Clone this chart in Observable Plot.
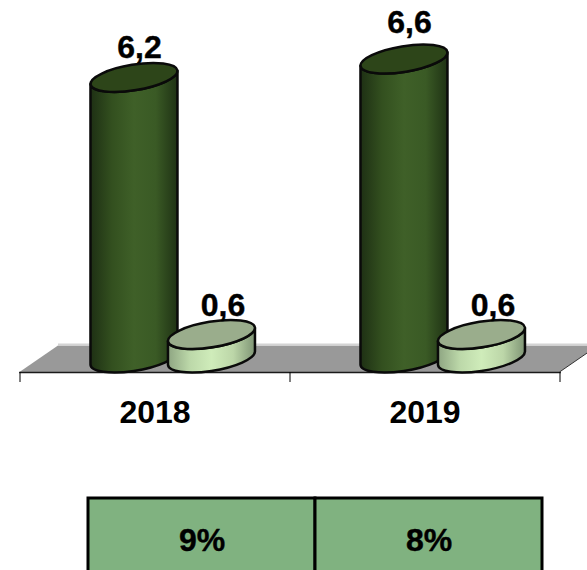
<!DOCTYPE html>
<html>
<head>
<meta charset="utf-8">
<script src="https://cdn.jsdelivr.net/npm/d3@7"></script>
<script src="https://cdn.jsdelivr.net/npm/@observablehq/plot@0.6"></script>
<style>
html,body{margin:0;padding:0;background:#fff;overflow:hidden}
svg{display:block}
</style>
</head>
<body>
<div id="chart"></div>
<script>
const years = [2018, 2019];
const darkValues = [6.2, 6.6];
const lightValues = [0.6, 0.6];
const shares = ["9%", "8%"];
const axisEdges = [2017.5, 2018.5, 2019.5];

const font = "'Liberation Sans', Arial, sans-serif";
const labelSize = 32;
const labelStyle = {fontSize: labelSize, fontWeight: "bold", fill: "#000", stroke: "#000", strokeWidth: 0.4, lineAnchor: "bottom"};
const rx = 44, ry = 12.8, tilt = -9.3, extX = 43.5, extY = 6.5;
const baseValue = 0.087;
const floorDepth = {dx: 38.5, dy: 26.5};

const darkRows = years.map((year, i) => ({year, value: darkValues[i], pos: year - 0.076, kind: "dark"}));
const lightRows = years.map((year, i) => ({year, value: lightValues[i], pos: year + 0.211, kind: "light"}));
const rows = [...darkRows, ...lightRows];
const palette = {
  dark: {top: "#2d4519", stops: ["#1e3014", "#33501f", "#3f6028", "#3a5a25", "#1f3214"]},
  light: {top: "#9aad8c", stops: ["#8ea582", "#bcd8a9", "#cfecba", "#bcd6a8", "#7f9575"]}
};
const comma = d => String(d.value).replace(".", ",");

function floorMark(index, {x}, values, {marginBottom, height}) {
  const fy = height - marginBottom;
  const x0 = x(axisEdges[0]), x1 = x(axisEdges[axisEdges.length - 1]);
  const g = d3.create("svg:g");
  g.append("path")
    .attr("d", `M${x0},${fy}L${x0 + floorDepth.dx},${fy - floorDepth.dy}L${x1 + floorDepth.dx},${fy - floorDepth.dy}L${x1},${fy}Z`)
    .attr("fill", "#999999")
    .attr("stroke", "none");
  g.append("path")
    .attr("d", `M${x0 + floorDepth.dx},${fy - floorDepth.dy - 1}L${x1 + floorDepth.dx},${fy - floorDepth.dy - 1}`)
    .attr("stroke", "#d4d4d4").attr("stroke-width", 2).attr("fill", "none");
  g.append("path")
    .attr("d", `M${x1},${fy}L${x1 + floorDepth.dx},${fy - floorDepth.dy}`)
    .attr("stroke", "#333").attr("fill", "none");
  return g.node();
}

function cylinderMark(index, {x, y}) {
  const g = d3.create("svg:g");
  const defs = g.append("defs");
  for (const kind of ["dark", "light"]) {
    const lg = defs.append("linearGradient").attr("id", "grad-" + kind);
    palette[kind].stops.forEach((c, i) => lg.append("stop").attr("offset", i / 4).attr("stop-color", c));
  }
  const base = y(baseValue);
  for (const r of rows) {
    const cx = x(r.pos), top = y(r.value);
    const arc = sweep => `A${rx},${ry} ${tilt} 0 ${sweep} `;
    const body = `M${cx - extX},${top + extY}L${cx - extX},${base + extY}`
      + arc(0) + `${cx + extX},${base - extY}`
      + `L${cx + extX},${top - extY}`
      + arc(1) + `${cx - extX},${top + extY}Z`;
    g.append("path").attr("d", body)
      .attr("fill", `url(#grad-${r.kind})`)
      .attr("stroke", "#0a0a0a").attr("stroke-width", 2.5).attr("stroke-linejoin", "round");
    g.append("ellipse")
      .attr("transform", `translate(${cx},${top}) rotate(${tilt})`)
      .attr("rx", rx).attr("ry", ry)
      .attr("fill", palette[r.kind].top)
      .attr("stroke", "#0a0a0a").attr("stroke-width", 2.5);
  }
  return g.node();
}

const chart = Plot.plot({
  width: 587, height: 490,
  marginLeft: 19.5, marginRight: 27.5, marginTop: 0, marginBottom: 118,
  style: {background: "#fff", fontFamily: font, color: "#000"},
  x: {domain: [axisEdges[0], axisEdges[2]]},
  y: {domain: [0, 7], range: [362, 40.7], axis: null},
  marks: [
    floorMark,
    Plot.frame({anchor: "bottom", stroke: "#1a1a1a", strokeWidth: 1.6}),
    Plot.axisX({ticks: axisEdges, tickSize: 10, tickFormat: () => "", stroke: "#000", label: null}),
    Plot.axisX({ticks: years, tickSize: 0, tickPadding: 28, tickFormat: "d", fontSize: labelSize, fontWeight: "bold", fill: "#000", stroke: "#000", strokeWidth: 0.4, label: null}),
    cylinderMark,
    Plot.text(darkRows.filter(d => d.value === darkValues[0]), {x: "pos", y: "value", text: comma, dx: 5, dy: -19.5, ...labelStyle}),
    Plot.text(darkRows.filter(d => d.value === darkValues[1]), {x: "pos", y: "value", text: comma, dx: 5, dy: -26.5, ...labelStyle}),
    Plot.text(lightRows, {x: "pos", y: "value", text: comma, dx: 11, dy: -19, ...labelStyle})
  ]
});

const tableRows = years.map((year, i) => ({year, share: shares[i]}));
const table = Plot.plot({
  width: 587, height: 80,
  marginLeft: 88, marginRight: 45, marginTop: 0, marginBottom: 0,
  style: {background: "#fff", fontFamily: font, color: "#000"},
  x: {type: "band", domain: years, padding: 0, axis: null},
  y: {type: "band", domain: ["share"], range: [7.5, 96], padding: 0, axis: null},
  marks: [
    Plot.cell(tableRows, {x: "year", y: () => "share", fill: "#80b280", stroke: "#000", strokeWidth: 3, inset: 0}),
    Plot.text(tableRows, {x: "year", y: () => "share", text: "share", dy: -2, fontSize: labelSize, fontWeight: "bold", fill: "#000", stroke: "#000", strokeWidth: 0.4})
  ]
});

document.getElementById("chart").append(chart, table);
</script>
</body>
</html>
